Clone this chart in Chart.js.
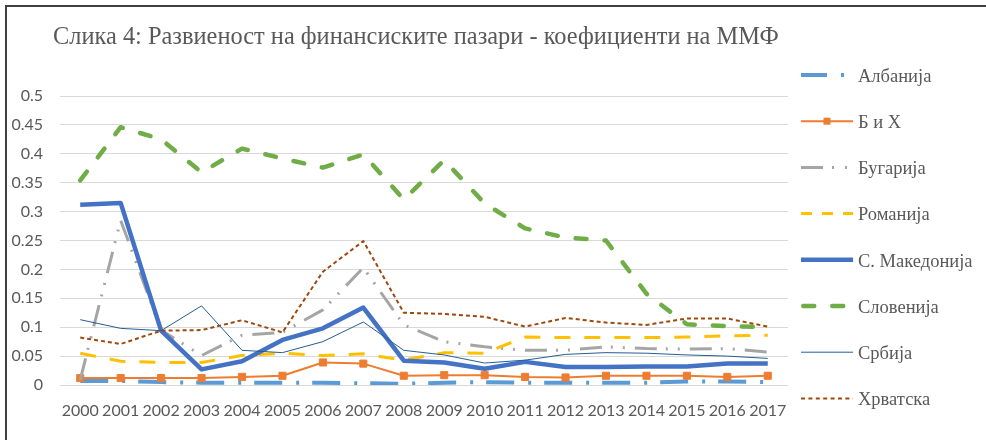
<!DOCTYPE html>
<html>
<head>
<meta charset="utf-8">
<script src="https://cdn.jsdelivr.net/npm/chart.js@4/dist/chart.umd.min.js"></script>
<style>
  html, body { margin: 0; padding: 0; background: #fff; }
  #wrap { width: 986px; height: 440px; position: relative; }
</style>
</head>
<body>
<div id="wrap"><canvas id="c" width="986" height="440"></canvas></div>
<script>
const titleText = 'Слика 4: Развиеност на финансиските пазари - коефициенти на ММФ';
const years = ['2000','2001','2002','2003','2004','2005','2006','2007','2008','2009','2010','2011','2012','2013','2014','2015','2016','2017'];
const seriesNames = ['Албанија','Б и Х','Бугарија','Романија','С. Македонија','Словенија','Србија','Хрватска'];

const albania   = [0.007,0.007,0.005,0.004,0.004,0.004,0.004,0.003,0.002,0.004,0.005,0.004,0.004,0.004,0.004,0.006,0.006,0.005];
const bih       = [0.012,0.012,0.012,0.012,0.014,0.016,0.039,0.037,0.016,0.017,0.017,0.014,0.013,0.016,0.016,0.016,0.014,0.016];
const bulgaria  = [0.009,0.285,0.095,0.051,0.086,0.091,0.130,0.203,0.104,0.075,0.066,0.060,0.060,0.066,0.063,0.062,0.063,0.057];
const romania   = [0.055,0.041,0.039,0.039,0.051,0.055,0.051,0.054,0.043,0.056,0.055,0.083,0.082,0.082,0.082,0.083,0.085,0.086];
const macedonia = [0.312,0.315,0.094,0.027,0.041,0.078,0.098,0.134,0.042,0.039,0.028,0.040,0.031,0.031,0.032,0.032,0.037,0.037];
const slovenia  = [0.354,0.446,0.425,0.368,0.409,0.392,0.376,0.399,0.321,0.389,0.314,0.271,0.255,0.250,0.158,0.105,0.102,0.100];
const serbia    = [0.113,0.098,0.094,0.137,0.060,0.056,0.075,0.109,0.060,0.052,0.038,0.043,0.053,0.056,0.055,0.052,0.050,0.046];
const croatia   = [0.082,0.071,0.094,0.095,0.112,0.091,0.196,0.249,0.125,0.123,0.118,0.101,0.116,0.108,0.104,0.115,0.115,0.101];

const yTicks = [0,0.05,0.1,0.15,0.2,0.25,0.3,0.35,0.4,0.45,0.5];

const styles = [
  {color:'#5B9BD5', width:4,   dash:[28,14,3,13], legendDash:[26,14,3,14], cap:'butt'},
  {color:'#ED7D31', width:2,   dash:[], legendDash:[], cap:'butt', marker:true},
  {color:'#A5A5A5', width:3,   dash:[22,9,2,10,2,10], legendDash:[22,9,2,11,2,10], cap:'butt'},
  {color:'#FFC000', width:3,   dash:[16,14], legendDash:[11,10], cap:'butt'},
  {color:'#4472C4', width:4.5, dash:[], legendDash:[], cap:'butt'},
  {color:'#70AD47', width:4.5, dash:[11,18], legendDash:[11,18], cap:'round'},
  {color:'#255E91', width:1,   dash:[], legendDash:[], cap:'butt'},
  {color:'#9E480E', width:2,   dash:[4,3], legendDash:[4,3.4], cap:'butt'}
];
const seriesData = [albania,bih,bulgaria,romania,macedonia,slovenia,serbia,croatia];

const datasets = seriesData.map((d,i) => ({
  label: seriesNames[i],
  data: d,
  borderColor: styles[i].color,
  backgroundColor: styles[i].color,
  borderWidth: styles[i].width,
  borderDash: styles[i].dash,
  borderCapStyle: styles[i].cap,
  borderJoinStyle: 'round',
  pointRadius: styles[i].marker ? 5 : 0,
  pointStyle: 'rect',
  pointBorderWidth: 1,
  pointBackgroundColor: styles[i].color,
  pointBorderColor: styles[i].color,
  tension: 0,
  fill: false,
  order: 8 - i
}));

const framePlugin = {
  id: 'frame',
  beforeDraw(chart) {
    const ctx = chart.ctx;
    ctx.save();
    ctx.fillStyle = '#ffffff';
    ctx.fillRect(0, 0, chart.width, chart.height);
    ctx.fillStyle = '#404040';
    ctx.fillRect(5, 5, chart.width - 5, 2);
    ctx.fillRect(5, 5, 2, chart.height - 5);
    ctx.restore();
  },
  afterDraw(chart) {
    const ctx = chart.ctx;
    ctx.save();
    // title
    ctx.font = '24.4px "Liberation Serif", "Times New Roman", serif';
    ctx.fillStyle = '#595959';
    ctx.textBaseline = 'alphabetic';
    ctx.textAlign = 'left';
    ctx.fillText(titleText, 53, 44);
    // legend
    const x0 = 801, x1 = 853, y0 = 75, step = 46.2;
    chart.data.datasets.forEach((ds, i) => {
      const st = styles[i];
      const y = y0 + i * step;
      ctx.save();
      ctx.strokeStyle = st.color;
      ctx.lineWidth = st.width;
      ctx.lineCap = st.cap;
      ctx.setLineDash(st.legendDash);
      ctx.beginPath();
      const xs = st.cap === 'round' ? x0 + st.width / 2 : x0;
      ctx.moveTo(xs, y);
      ctx.lineTo(x1, y);
      ctx.stroke();
      if (st.marker) {
        ctx.fillStyle = st.color;
        ctx.fillRect(823.5, y - 3.5, 7, 7);
      }
      ctx.restore();
      ctx.font = '18.5px "Liberation Serif", "Times New Roman", serif';
      ctx.fillStyle = '#595959';
      ctx.textBaseline = 'middle';
      ctx.fillText(ds.label, 858, y + 2);
    });
    ctx.restore();
  }
};

new Chart(document.getElementById('c'), {
  type: 'line',
  data: { labels: years, datasets },
  options: {
    responsive: false,
    animation: false,
    devicePixelRatio: 1,
    layout: { padding: { left: 0, right: 198, top: 96, bottom: 0 } },
    plugins: { legend: { display: false }, title: { display: false }, tooltip: { enabled: false } },
    scales: {
      x: {
        type: 'category',
        offset: true,
        grid: { display: false },
        border: { display: false },
        ticks: {
          autoSkip: false, maxRotation: 0, minRotation: 0, padding: 8,
          color: '#595959',
          font: { family: 'Lato', size: 16 }
        },
        afterFit(s) { s.height = 55; }
      },
      y: {
        min: 0, max: 0.5,
        afterBuildTicks(s) { s.ticks = yTicks.map(v => ({ value: v })); },
        grid: { color: '#D9D9D9', lineWidth: 1, drawTicks: false },
        border: { display: false },
        ticks: {
          padding: 17,
          color: '#595959',
          font: { family: 'Lato', size: 16 },
          callback: v => String(+v.toFixed(2))
        },
        afterFit(s) { s.width = 60; }
      }
    }
  },
  plugins: [framePlugin]
});
</script>
</body>
</html>
